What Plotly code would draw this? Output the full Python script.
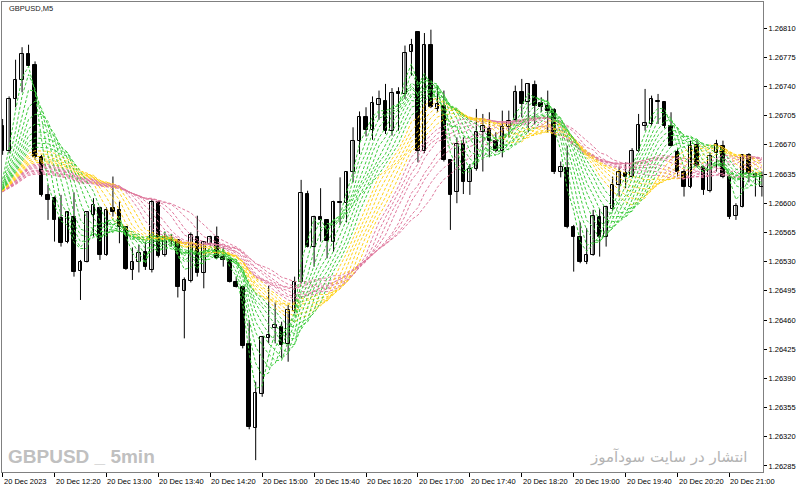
import pandas as pd
import plotly.graph_objects as go

# ---------------- data (GBPUSD, M5, 20 Dec 2023) ----------------
start_time = "2023-12-20 11:40"

opens = [1.26692,1.26662,1.26725,1.26748,1.26779,1.26766,1.26655,1.26610,1.26606,1.26582,
         1.26553,1.26583,1.26519,1.26530,1.26586,1.26594,1.26538,1.26594,1.26592,1.26571,
         1.26520,1.26529,1.26541,1.26520,1.26601,1.26538,1.26558,1.26556,1.26495,1.26507,
         1.26560,1.26516,1.26551,1.26560,1.26535,1.26532,1.26506,1.26500,1.26431,1.26331,
         1.26371,1.26439,1.26451,1.26452,1.26431,1.26471,1.26506,1.26611,1.26548,1.26583,
         1.26580,1.26554,1.26602,1.26600,1.26637,1.26675,1.26703,1.26688,1.26718,1.26723,
         1.26686,1.26733,1.26731,1.26781,1.26805,1.26662,1.26790,1.26713,1.26717,1.26652,
         1.26614,1.26671,1.26626,1.26641,1.26685,1.26689,1.26675,1.26663,1.26691,1.26700,
         1.26733,1.26721,1.26742,1.26720,1.26716,1.26712,1.26637,1.26642,1.26572,1.26559,
         1.26530,1.26538,1.26584,1.26560,1.26593,1.26622,1.26636,1.26632,1.26663,1.26693,
         1.26695,1.26723,1.26721,1.26693,1.26661,1.26638,1.26620,1.26670,1.26643,1.26615,
         1.26660,1.26668,1.26632,1.26585,1.26596,1.26658,1.26635,1.26619]

highs = [1.26701,1.26728,1.26772,1.26787,1.26790,1.26770,1.26658,1.26622,1.26608,1.26610,
         1.26590,1.26613,1.26532,1.26590,1.26606,1.26596,1.26595,1.26632,1.26602,1.26572,
         1.26547,1.26550,1.26554,1.26605,1.26603,1.26566,1.26562,1.26557,1.26511,1.26565,
         1.26585,1.26554,1.26561,1.26572,1.26547,1.26534,1.26512,1.26501,1.26460,1.26386,
         1.26441,1.26501,1.26481,1.26458,1.26478,1.26512,1.26628,1.26615,1.26585,1.26618,
         1.26581,1.26603,1.26631,1.26638,1.26691,1.26710,1.26715,1.26728,1.26735,1.26743,
         1.26738,1.26739,1.26789,1.26797,1.26806,1.26804,1.26808,1.26741,1.26735,1.26653,
         1.26679,1.26679,1.26647,1.26713,1.26707,1.26709,1.26685,1.26711,1.26711,1.26741,
         1.26749,1.26744,1.26747,1.26727,1.26735,1.26714,1.26650,1.26669,1.26574,1.26577,
         1.26570,1.26592,1.26593,1.26597,1.26632,1.26644,1.26649,1.26666,1.26707,1.26737,
         1.26729,1.26731,1.26722,1.26709,1.26665,1.26641,1.26675,1.26675,1.26645,1.26661,
         1.26676,1.26675,1.26634,1.26600,1.26659,1.26660,1.26637,1.26638]

lows = [1.26658,1.26660,1.26715,1.26733,1.26764,1.26652,1.26608,1.26580,1.26554,1.26548,
        1.26552,1.26512,1.26484,1.26529,1.26560,1.26532,1.26537,1.26584,1.26552,1.26520,
        1.26508,1.26517,1.26520,1.26517,1.26535,1.26536,1.26548,1.26487,1.26438,1.26505,
        1.26512,1.26498,1.26549,1.26533,1.26524,1.26505,1.26499,1.26426,1.26329,1.26292,
        1.26368,1.26432,1.26432,1.26414,1.26410,1.26468,1.26504,1.26547,1.26524,1.26554,
        1.26534,1.26542,1.26574,1.26577,1.26625,1.26659,1.26680,1.26676,1.26700,1.26683,
        1.26681,1.26687,1.26725,1.26753,1.26649,1.26660,1.26714,1.26709,1.26650,1.26568,
        1.26600,1.26611,1.26610,1.26639,1.26638,1.26655,1.26661,1.26655,1.26679,1.26698,
        1.26703,1.26685,1.26695,1.26709,1.26685,1.26635,1.26631,1.26570,1.26518,1.26528,
        1.26527,1.26537,1.26536,1.26548,1.26591,1.26608,1.26618,1.26631,1.26661,1.26687,
        1.26693,1.26695,1.26690,1.26668,1.26632,1.26608,1.26618,1.26643,1.26610,1.26613,
        1.26638,1.26630,1.26581,1.26580,1.26595,1.26625,1.26608,1.26608]

closes = [1.26662,1.26725,1.26748,1.26779,1.26765,1.26655,1.26610,1.26604,1.26580,1.26552,
          1.26589,1.26518,1.26530,1.26589,1.26598,1.26538,1.26592,1.26590,1.26571,1.26521,
          1.26529,1.26540,1.26523,1.26601,1.26537,1.26559,1.26555,1.26499,1.26508,1.26562,
          1.26516,1.26553,1.26560,1.26534,1.26532,1.26506,1.26500,1.26429,1.26332,1.26372,
          1.26440,1.26442,1.26454,1.26430,1.26472,1.26505,1.26612,1.26548,1.26584,1.26580,
          1.26555,1.26602,1.26600,1.26637,1.26675,1.26703,1.26688,1.26720,1.26725,1.26687,
          1.26732,1.26731,1.26780,1.26790,1.26662,1.26790,1.26715,1.26719,1.26652,1.26610,
          1.26671,1.26626,1.26641,1.26685,1.26693,1.26675,1.26662,1.26691,1.26699,1.26733,
          1.26719,1.26743,1.26717,1.26715,1.26711,1.26637,1.26643,1.26571,1.26559,1.26530,
          1.26538,1.26585,1.26560,1.26595,1.26622,1.26638,1.26632,1.26663,1.26694,1.26696,
          1.26725,1.26721,1.26692,1.26669,1.26638,1.26620,1.26669,1.26645,1.26616,1.26657,
          1.26671,1.26632,1.26584,1.26597,1.26658,1.26635,1.26631,1.26633]

# rainbow moving-average indicator (simple MAs) ; level of the closes before the window
green_periods = [3, 4, 5, 6, 7, 8, 9, 10, 11, 12]
yellow_periods = [13, 14, 15, 16, 17, 18]
pink_periods = [19, 20, 21, 22, 24, 25, 27, 29]
pre_window_level = 1.26612

y_ticks = [1.26285, 1.26320, 1.26355, 1.26390, 1.26425, 1.26460, 1.26495, 1.26530,
           1.26565, 1.26600, 1.26635, 1.26670, 1.26705, 1.26740, 1.26775, 1.26810]
x_tick_times = ["2023-12-20 11:40", "2023-12-20 12:20", "2023-12-20 13:00", "2023-12-20 13:40",
                "2023-12-20 14:20", "2023-12-20 15:00", "2023-12-20 15:40", "2023-12-20 16:20",
                "2023-12-20 17:00", "2023-12-20 17:40", "2023-12-20 18:20", "2023-12-20 19:00",
                "2023-12-20 19:40", "2023-12-20 20:20", "2023-12-20 21:00"]
x_tick_labels = ["20 Dec 2023", "20 Dec 12:20", "20 Dec 13:00", "20 Dec 13:40",
                 "20 Dec 14:20", "20 Dec 15:00", "20 Dec 15:40", "20 Dec 16:20",
                 "20 Dec 17:00", "20 Dec 17:40", "20 Dec 18:20", "20 Dec 19:00",
                 "20 Dec 19:40", "20 Dec 20:20", "20 Dec 21:00"]

# ---------------- build ----------------
times = pd.date_range(start_time, periods=len(opens), freq="5min")


def sma(values, period, pad):
    out = []
    for i in range(len(values)):
        window = values[max(0, i - period + 1): i + 1]
        missing = period - len(window)
        out.append((sum(window) + missing * pad) / period)
    return out


fig = go.Figure()

# wicks
wx, wy = [], []
for t, h, l in zip(times, highs, lows):
    wx += [t, t, None]
    wy += [l, h, None]
fig.add_trace(go.Scatter(x=wx, y=wy, mode="lines", line=dict(color="#000000", width=1),
                         hoverinfo="skip"))

# bodies
min_body = 0.000007
for bull in (True, False):
    bx, bbase, bh = [], [], []
    for t, o, c in zip(times, opens, closes):
        if (c >= o) == bull:
            bx.append(t)
            bbase.append(min(o, c))
            bh.append(max(abs(c - o), min_body))
    fig.add_trace(go.Bar(x=bx, y=bh, base=bbase, width=165000,
                         marker=dict(color="#ffffff" if bull else "#000000",
                                     line=dict(color="#000000", width=1))))

# moving averages
for periods, color in ((pink_periods, "#e07a9e"),
                       (yellow_periods, "#ffd21a"),
                       (green_periods, "#3ccc3c")):
    for p in periods:
        fig.add_trace(go.Scatter(x=times, y=sma(closes, p, pre_window_level), mode="lines",
                                 line=dict(color=color, width=1, dash="3px,2px"),
                                 hoverinfo="skip"))

axis_font = dict(family="Liberation Sans, Arial, sans-serif", size=7.5, color="#000000")

fig.update_layout(
    width=800, height=490,
    margin=dict(l=2, r=37, t=2, b=18, autoexpand=False),
    paper_bgcolor="#ffffff", plot_bgcolor="#ffffff",
    showlegend=False, barmode="overlay", bargap=0,
    xaxis=dict(type="date", range=["2023-12-20 11:39:32", "2023-12-20 21:25:51"],
               tickvals=x_tick_times, showticklabels=False, ticks="outside", ticklen=4,
               tickcolor="#000000", automargin=False,
               showline=True, linecolor="#808080", linewidth=1, mirror=True,
               showgrid=False, zeroline=False),
    yaxis=dict(side="right", range=[1.262778, 1.268412],
               tickvals=y_ticks, ticktext=[f"{v:.5f}" for v in y_ticks],
               ticks="outside", ticklen=3, tickcolor="#000000", tickfont=axis_font,
               automargin=False,
               showline=True, linecolor="#808080", linewidth=1, mirror=True,
               showgrid=False, zeroline=False),
)

for t, lab in zip(x_tick_times, x_tick_labels):
    fig.add_annotation(text=lab, x=t, xref="x", y=0, yref="paper", xanchor="left",
                       yanchor="top", yshift=-3, xshift=-1, showarrow=False, font=axis_font)

fig.add_annotation(text="GBPUSD,M5", xref="paper", yref="paper", x=0.0066, y=0.987,
                   xanchor="left", yanchor="middle", showarrow=False,
                   font=dict(family="Liberation Sans, Arial, sans-serif", size=7.5, color="#222222"))
fig.add_annotation(text="<b>GBPUSD _ 5min</b>", xref="paper", yref="paper", x=0.005, y=0.032,
                   xanchor="left", yanchor="middle", showarrow=False,
                   font=dict(family="Liberation Sans, Arial, sans-serif",
                             size=19, color="#c0c0c0"))
fig.add_annotation(text="انتشار در سایت سودآموز", xref="paper", yref="paper", x=0.983, y=0.032,
                   xanchor="right", yanchor="middle", showarrow=False,
                   font=dict(family="DejaVu Sans, sans-serif", size=15, color="#b4b4b4"))

fig.write_html("out.html")
